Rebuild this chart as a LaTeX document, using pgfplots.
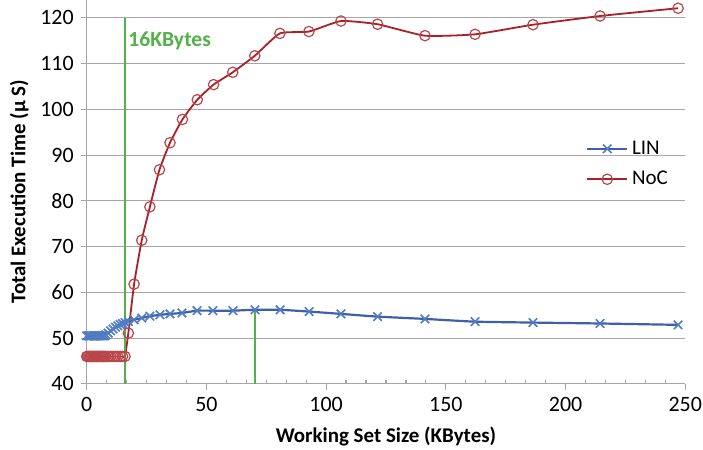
\documentclass[border=0pt]{standalone}
\usepackage{pgfplots}
\pgfplotsset{compat=1.18}
\usepackage{pgfplotstable}
\usepackage{fontspec}
\setmainfont{Carlito}
\definecolor{linline}{RGB}{62,96,168}
\definecolor{linmark}{RGB}{80,124,196}
\definecolor{nocline}{RGB}{170,32,40}
\definecolor{nocmark}{RGB}{185,70,74}
\definecolor{grn}{RGB}{84,176,72}
\definecolor{gridc}{RGB}{166,166,166}

\pgfplotstableread{
x y
0 50.5
0.5 50.5
1 50.5
1.5 50.5
2 50.5
2.5 50.5
3 50.5
3.5 50.5
4 50.5
4.5 50.5
5 50.5
5.5 50.5
6 50.5
6.5 50.5
7 50.5
7.5 50.5
8 50.7
9 51.1
10 51.6
11 52.0
12 52.4
13 52.7
14 53.0
15 53.2
16 53.4
17.4 53.6
19.8 54.0
23 54.4
26.4 54.8
30.6 55.1
34.8 55.3
39.8 55.5
46.1 56.0
52.7 56.0
61.1 56.0
70.3 56.2
80.8 56.2
92.9 55.8
106.2 55.3
121.5 54.7
141.3 54.2
162.2 53.6
186.4 53.4
214.4 53.2
247 52.9
}\lintable

\pgfplotstableread{
x y
0 46.0
0.5 46.0
1 46.0
1.5 46.0
2 46.0
2.5 46.0
3 46.0
3.5 46.0
4 46.0
4.5 46.0
5 46.0
5.5 46.0
6 46.0
6.5 46.0
7 46.0
7.5 46.0
8 46.0
9 46.0
10 46.0
11 46.0
12 46.0
13 46.0
14 46.0
15 46.0
16 46.0
17.4 51.1
19.8 61.8
23 71.4
26.4 78.7
30.4 86.8
34.8 92.7
40 97.8
46.2 102.1
53 105.4
61 108.1
70.2 111.7
80.7 116.6
92.8 117.0
106.2 119.3
121.5 118.6
141.3 116.1
162.2 116.4
186.4 118.5
214.4 120.4
247 122.1
}\noctable

\pgfplotstableread{
x y
70.3 40
70.3 56.2
}\markertable

\begin{document}
\begin{tikzpicture}
\begin{axis}[
  scale only axis, width=299.25bp, height=192.15bp,
  xmin=0, xmax=250, ymin=40, ymax=124,
  xtick={0,50,...,250}, ytick={40,50,...,120},
  minor x tick num=5,
  axis lines*=left,
  axis line style={gridc, line width=0.6bp},
  ymajorgrids, major grid style={gridc, line width=0.6bp},
  tick style={gridc, line width=0.6bp},
  tick align=outside, major tick length=3bp, minor tick length=2bp,
  minor x tick style={yshift=2bp},
  /pgf/number format/assume math mode=true,
  tick label style={font=\fontsize{11}{12}\selectfont, black},
  label style={font=\fontsize{10.5}{12}\selectfont\bfseries, black},
  xlabel={Working Set Size (KBytes)},
  ylabel={Total Execution Time (µ S)},
  ylabel style={yshift=-1bp},
  xlabel style={yshift=-1bp},
  legend style={at={(axis cs:206,95)}, anchor=north west, draw=none, fill=none,
    font=\fontsize{10.5}{12}\selectfont, row sep=3bp},
  legend cell align=left,
  legend image code/.code={\draw[mark repeat=2,mark phase=2] plot coordinates {(0cm,0cm) (0.35cm,0cm) (0.7cm,0cm)};},
  clip=false,
]
\addplot[linline, line width=1.1bp, smooth, tension=0.3, mark=x, mark size=3bp,
  mark options={linmark, line width=0.8bp, solid}] table[x=x,y=y] {\lintable};
\addlegendentry{LIN}
\addplot[nocline, line width=0.9bp, smooth, tension=0.3, mark=o, mark size=2.6bp,
  mark options={nocmark, line width=0.6bp, solid, fill=none}] table[x=x,y=y] {\noctable};
\addlegendentry{NoC}
\addplot[color=grn, line width=0.9bp, mark=none, forget plot] coordinates {(16,40) (16,120)};
\addplot[color=grn, line width=0.9bp, mark=none, forget plot] table[x=x,y=y] {\markertable};
\node[anchor=west, text=grn, font=\fontsize{10.8}{12}\selectfont\bfseries, inner sep=0pt] at (axis cs:17.3,115) {16KBytes};
\coordinate (bbl) at (axis cs:-36.2,25.6);
\coordinate (btr) at (axis cs:257.4,123.9);
\end{axis}
\pgfresetboundingbox
\path[use as bounding box] (bbl) rectangle (btr);
\end{tikzpicture}
\end{document}
